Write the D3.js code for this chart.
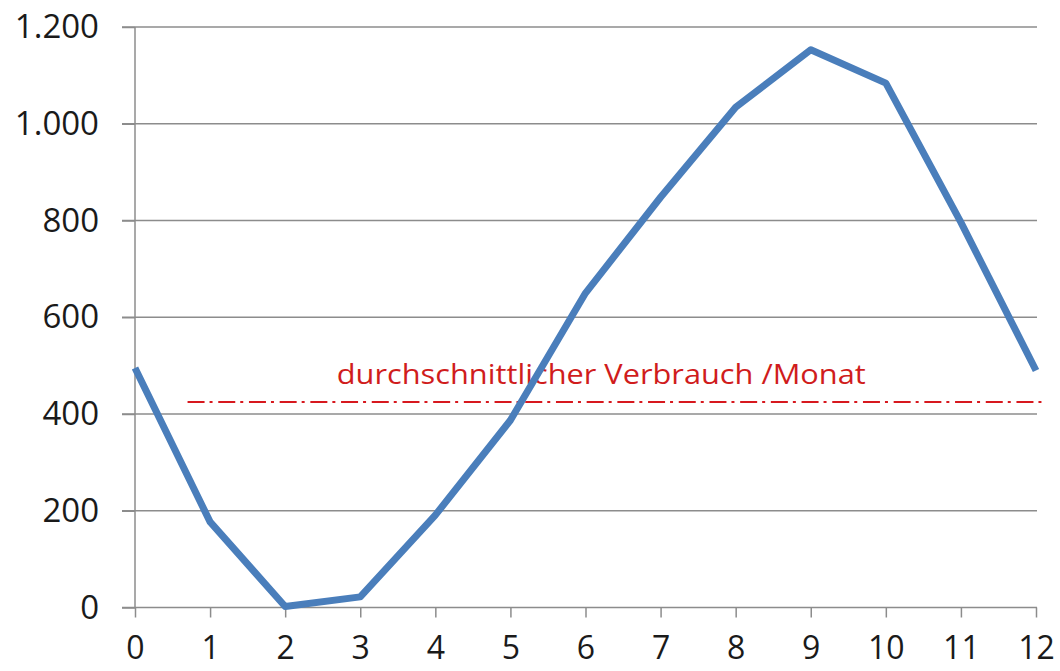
<!DOCTYPE html>
<html>
<head>
<meta charset="utf-8">
<style>
  body { margin: 0; background: #fff; }
  svg { display: block; }
</style>
</head>
<body>
<svg width="1060" height="671"></svg>
<script src="https://d3js.org/d3.v7.min.js"></script>
<script>

// months 0..12 and consumption values
var months = [0, 1, 2, 3, 4, 5, 6, 7, 8, 9, 10, 11, 12];
var verbrauch = [495, 177, 2, 22, 191, 387, 650, 848, 1034, 1153, 1084, 796, 490];
var yTicks = [0, 200, 400, 600, 800, 1000, 1200];
var avgValue = 425;
var avgLabel = "durchschnittlicher Verbrauch /Monat";

var svg = d3.select("svg");

var x = d3.scaleLinear().domain([0, 12]).range([135, 1036]),
    y = d3.scaleLinear().domain([0, 1200]).range([607.5, 27]);

var fmt = function(d) { return d3.format(",")(d).replace(/,/g, "."); };

// gridlines
svg.append("g")
    .selectAll("line")
    .data(yTicks.slice(1))
    .enter().append("line")
      .attr("x1", x(0) - 13)
      .attr("x2", x(12) + 1)
      .attr("y1", function(d) { return y(d); })
      .attr("y2", function(d) { return y(d); })
      .attr("stroke", "#8c8c8c")
      .attr("stroke-width", 1.5);

// y axis
var yAxis = svg.append("g")
    .attr("transform", "translate(" + x(0) + ",0)")
    .call(d3.axisLeft(y).tickValues(yTicks).tickFormat(fmt).tickSize(13).tickPadding(23));
yAxis.select(".domain").attr("stroke", "#8c8c8c").attr("stroke-width", 1.5)
    .attr("d", "M0," + y(1200) + "V" + y(0));
yAxis.selectAll(".tick line").attr("stroke", "#8c8c8c").attr("stroke-width", 1.5);
yAxis.selectAll(".tick text")
    .attr("fill", "#1a1a1a")
    .style("font", "33px 'Open Sans', sans-serif");

// x axis
var xAxis = svg.append("g")
    .attr("transform", "translate(0," + y(0) + ")")
    .call(d3.axisBottom(x).tickValues(months).tickFormat(d3.format("d")).tickSize(10).tickPadding(19));
xAxis.select(".domain").attr("stroke", "#8c8c8c").attr("stroke-width", 1.5)
    .attr("d", "M" + (x(0) - 13) + ",0H" + (x(12) + 1));
xAxis.selectAll(".tick line").attr("stroke", "#8c8c8c").attr("stroke-width", 1.5);
xAxis.selectAll(".tick text")
    .attr("fill", "#1a1a1a")
    .style("font", "32px 'Open Sans', sans-serif");

// average line
svg.append("line")
    .attr("x1", x(0.7))
    .attr("x2", x(12.08))
    .attr("y1", y(avgValue))
    .attr("y2", y(avgValue))
    .attr("stroke", "#d7181e")
    .attr("stroke-width", 2)
    .attr("stroke-dasharray", "17,5,3,5.7");

svg.append("text")
    .attr("x", x(6.21))
    .attr("y", y(avgValue) - 18)
    .attr("text-anchor", "middle")
    .attr("fill", "#d01c1c")
    .attr("textLength", 529)
    .attr("lengthAdjust", "spacingAndGlyphs")
    .style("font", "27px 'Open Sans', sans-serif")
    .text(avgLabel);

// consumption line
var line = d3.line()
    .x(function(d, i) { return x(months[i]); })
    .y(function(d) { return y(d); });

svg.append("path")
    .datum(verbrauch)
    .attr("fill", "none")
    .attr("stroke", "#4a7ebb")
    .attr("stroke-width", 7)
    .attr("stroke-linejoin", "round")
    .attr("d", line);

</script>
</body>
</html>
